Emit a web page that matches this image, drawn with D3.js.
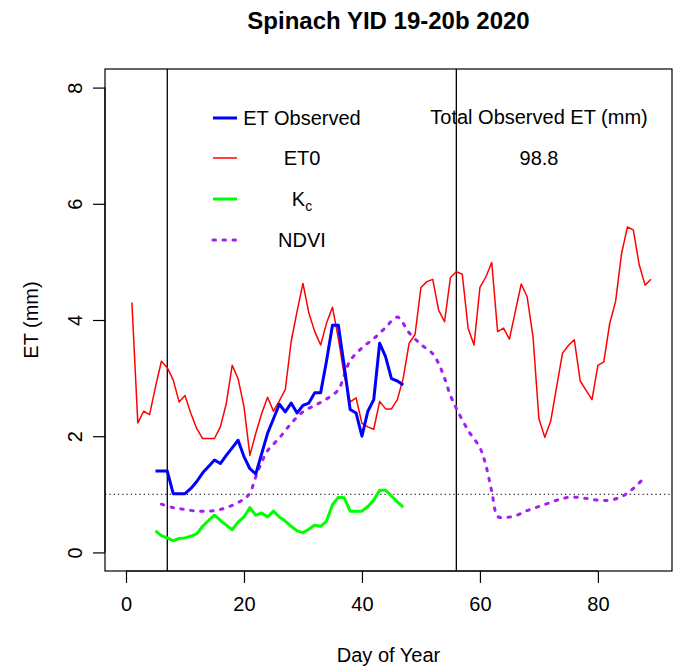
<!DOCTYPE html>
<html>
<head>
<meta charset="utf-8">
<script src="https://cdn.jsdelivr.net/npm/d3@7"></script>
<style>
  html, body { margin: 0; padding: 0; background: #fff; }
  svg text { font-family: "Liberation Sans", Arial, sans-serif; fill: #000; }
</style>
</head>
<body>
<svg id="chart" width="674" height="669"></svg>
<script>
// ---------- data ----------
const chartTitle = "Spinach YID 19-20b 2020";
const xTicks = [0, 20, 40, 60, 80];
const yTicks = [0, 2, 4, 6, 8];
const xDomainData = [0, 89];
const yDomainData = [0, 8];

const et0Start = 1;
const et0 = [4.30, 2.23, 2.43, 2.37, 2.85, 3.29, 3.18, 2.97, 2.59, 2.70,
             2.39, 2.13, 1.96, 1.96, 1.96, 2.16, 2.56, 3.22, 2.99, 2.51,
             1.67, 2.05, 2.39, 2.67, 2.43, 2.61, 2.80, 3.63, 4.15, 4.63,
             4.12, 3.80, 3.57, 3.95, 4.22, 3.68, 3.05, 2.59, 2.66, 2.22,
             2.16, 2.12, 2.60, 2.47, 2.47, 2.63, 3.00, 3.60, 3.75, 4.56,
             4.66, 4.70, 4.17, 3.97, 4.73, 4.83, 4.79, 3.86, 3.57, 4.56,
             4.74, 4.99, 3.80, 3.86, 3.67, 4.15, 4.62, 4.40, 3.71, 2.30,
             1.98, 2.26, 2.85, 3.43, 3.56, 3.66, 2.95, 2.79, 2.63, 3.22,
             3.28, 3.94, 4.32, 5.14, 5.60, 5.55, 4.95, 4.60, 4.70];

const obsStart = 5;
const etObserved = [1.40, 1.40, 1.40, 1.01, 1.01, 1.01, 1.10, 1.22, 1.37, 1.48,
                    1.59, 1.53, 1.67, 1.80, 1.93, 1.65, 1.44, 1.35, 1.70, 2.05,
                    2.30, 2.55, 2.42, 2.57, 2.40, 2.53, 2.57, 2.75, 2.75, 3.30,
                    3.91, 3.91, 3.20, 2.46, 2.40, 2.00, 2.43, 2.63, 3.60, 3.37,
                    2.99, 2.95, 2.88];
const kc = [0.37, 0.29, 0.25, 0.20, 0.24, 0.25, 0.28, 0.32, 0.45, 0.55,
            0.64, 0.55, 0.47, 0.39, 0.52, 0.61, 0.77, 0.64, 0.68, 0.61,
            0.71, 0.61, 0.54, 0.45, 0.37, 0.34, 0.40, 0.47, 0.45, 0.54,
            0.82, 0.95, 0.94, 0.71, 0.71, 0.71, 0.79, 0.90, 1.07, 1.07,
            0.97, 0.87, 0.78];

const ndviDays = [6, 8, 10, 12, 14, 16, 18, 20, 21, 22, 23, 24, 26, 28, 30, 32, 34, 36, 37, 38,
                  40, 42, 44, 46, 48, 50, 52, 53, 54, 55, 56, 58, 60, 61, 62, 63, 64, 66, 68, 70,
                  72, 74, 76, 78, 80, 82, 84, 86, 88];
const ndvi = [0.83, 0.77, 0.74, 0.71, 0.71, 0.74, 0.81, 0.92, 1.02, 1.30, 1.55, 1.75, 1.97, 2.22, 2.42, 2.53, 2.64, 2.80, 3.05, 3.30,
              3.52, 3.68, 3.87, 4.05, 3.78, 3.58, 3.42, 3.25, 3.00, 2.70, 2.48, 2.10, 1.80, 1.50, 1.05, 0.62, 0.60, 0.63, 0.72, 0.79,
              0.86, 0.93, 0.95, 0.93, 0.90, 0.90, 0.96, 1.10, 1.30];

const stageLines = [7, 56];
const refLine = 1;

const legendLabels = ["ET Observed", "ET0", "Kc", "NDVI"];
const totalLabel = "Total Observed ET (mm)";
const totalValue = "98.8";

// ---------- layout ----------
const plot = { left: 105, right: 672, top: 69, bottom: 571 };
const pad = 0.04;
const xr = xDomainData[1] - xDomainData[0];
const yr = yDomainData[1] - yDomainData[0];
const x = d3.scaleLinear().domain([xDomainData[0] - pad * xr, xDomainData[1] + pad * xr]).range([plot.left, plot.right]);
const y = d3.scaleLinear().domain([yDomainData[0] - pad * yr, yDomainData[1] + pad * yr]).range([plot.bottom, plot.top]);

const svg = d3.select("#chart");
svg.append("rect").attr("width", 674).attr("height", 669).attr("fill", "#fff");

// clip
svg.append("clipPath").attr("id", "clip").append("rect")
  .attr("x", plot.left).attr("y", plot.top)
  .attr("width", plot.right - plot.left).attr("height", plot.bottom - plot.top);

const g = svg.append("g").attr("clip-path", "url(#clip)");

const line = d3.line().x(d => x(d[0])).y(d => y(d[1]));

const et0Data = et0.map((v, i) => [et0Start + i, v]);
const obsData = etObserved.map((v, i) => [obsStart + i, v]);
const kcData = kc.map((v, i) => [obsStart + i, v]);
const ndviData = ndvi.map((v, i) => [ndviDays[i], v]);

// reference lines
g.append("line")
  .attr("x1", plot.left).attr("x2", plot.right)
  .attr("y1", y(refLine)).attr("y2", y(refLine))
  .attr("stroke", "#000").attr("stroke-width", 1).attr("stroke-dasharray", "1.3 3");

g.selectAll(".stage").data(stageLines).enter().append("line")
  .attr("x1", d => x(d)).attr("x2", d => x(d))
  .attr("y1", plot.top).attr("y2", plot.bottom)
  .attr("stroke", "#000").attr("stroke-width", 1.3);

// series
g.append("path").datum(et0Data).attr("d", line)
  .attr("fill", "none").attr("stroke", "#ff0000").attr("stroke-width", 1.5).attr("stroke-linejoin", "round");

g.append("path").datum(ndviData)
  .attr("d", d3.line().x(d => x(d[0])).y(d => y(d[1])).curve(d3.curveCatmullRom.alpha(0.5)))
  .attr("fill", "none").attr("stroke", "#a020f0").attr("stroke-width", 3)
  .attr("stroke-dasharray", "2.5 7.5").attr("stroke-linecap", "round");

g.append("path").datum(kcData).attr("d", line)
  .attr("fill", "none").attr("stroke", "#00ff00").attr("stroke-width", 3).attr("stroke-linejoin", "round");

g.append("path").datum(obsData).attr("d", line)
  .attr("fill", "none").attr("stroke", "#0000ff").attr("stroke-width", 3).attr("stroke-linejoin", "round");

// box
svg.append("rect")
  .attr("x", plot.left).attr("y", plot.top)
  .attr("width", plot.right - plot.left).attr("height", plot.bottom - plot.top)
  .attr("fill", "none").attr("stroke", "#000").attr("stroke-width", 1.2);

// axes
const xAxis = d3.axisBottom(x).tickValues(xTicks).tickSize(12).tickPadding(14).tickSizeOuter(0);
const xg = svg.append("g").attr("transform", `translate(0,${plot.bottom})`).call(xAxis);
xg.select(".domain").attr("d", `M${x(xTicks[0])},0H${x(xTicks[xTicks.length - 1])}`).attr("stroke-width", 1.2);
xg.selectAll(".tick line").attr("stroke-width", 1.2);
xg.selectAll("text").attr("font-size", 20).attr("font-family", "Liberation Sans, Arial, sans-serif");

const yAxis = d3.axisLeft(y).tickValues(yTicks).tickSize(12).tickSizeOuter(0);
const yg = svg.append("g").attr("transform", `translate(${plot.left},0)`).call(yAxis);
yg.select(".domain").attr("d", `M0,${y(yTicks[0])}V${y(yTicks[yTicks.length - 1])}`).attr("stroke-width", 1.2);
yg.selectAll(".tick line").attr("stroke-width", 1.2);
yg.selectAll("text")
  .attr("font-size", 20).attr("font-family", "Liberation Sans, Arial, sans-serif")
  .attr("x", -30).attr("y", 0).attr("dy", null)
  .attr("text-anchor", "middle")
  .attr("transform", "rotate(-90)")
  .each(function() {
    const t = d3.select(this);
    // rotate around the tick position: put text at (-30, 0) rotated
    t.attr("transform", "translate(-30,0) rotate(-90)").attr("x", 0).attr("dy", "0.355em");
  });

// titles
svg.append("text").attr("x", (plot.left + plot.right) / 2).attr("y", 29)
  .attr("text-anchor", "middle").attr("font-size", 24).attr("font-weight", "bold").text(chartTitle);

svg.append("text").attr("x", (plot.left + plot.right) / 2).attr("y", 662)
  .attr("text-anchor", "middle").attr("font-size", 20).text("Day of Year");

svg.append("text").attr("transform", `translate(38,${(plot.top + plot.bottom) / 2}) rotate(-90)`)
  .attr("text-anchor", "middle").attr("font-size", 20).text("ET (mm)");

// legend
const legX1 = 213, legX2 = 237, legTextX = 302;
const legY = [118, 158, 199, 240];
const legStyles = [
  { stroke: "#0000ff", width: 3, dash: null },
  { stroke: "#ff0000", width: 1.5, dash: null },
  { stroke: "#00ff00", width: 3, dash: null },
  { stroke: "#a020f0", width: 3, dash: "2.5 7.5" }
];
legendLabels.forEach((lab, i) => {
  const s = legStyles[i];
  const ln = svg.append("line").attr("x1", legX1).attr("x2", i === 3 ? 241 : legX2)
    .attr("y1", legY[i]).attr("y2", legY[i])
    .attr("stroke", s.stroke).attr("stroke-width", s.width);
  if (s.dash) ln.attr("stroke-dasharray", s.dash).attr("stroke-linecap", "round");
  const t = svg.append("text").attr("x", legTextX).attr("y", legY[i] + 7)
    .attr("text-anchor", "middle").attr("font-size", 20);
  if (lab === "Kc") {
    t.append("tspan").text("K");
    t.append("tspan").attr("font-size", 14).attr("dy", 5).text("c");
  } else {
    t.text(lab);
  }
});

svg.append("text").attr("x", 539).attr("y", 124).attr("text-anchor", "middle").attr("font-size", 20).text(totalLabel);
svg.append("text").attr("x", 539).attr("y", 165).attr("text-anchor", "middle").attr("font-size", 20).text(totalValue);
</script>
</body>
</html>
